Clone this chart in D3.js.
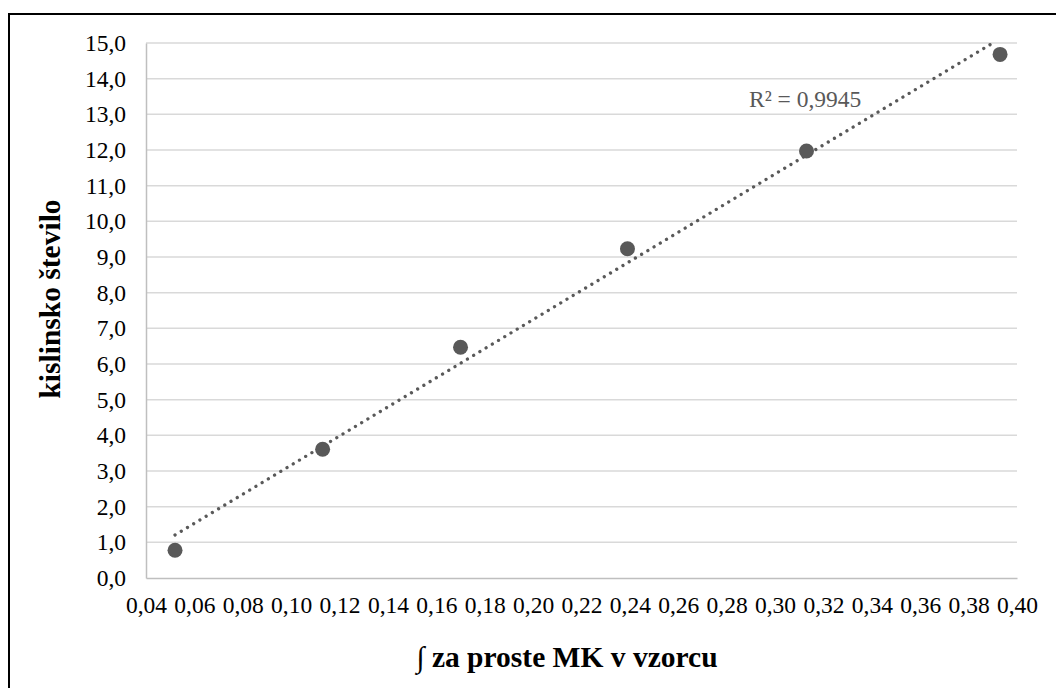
<!DOCTYPE html>
<html>
<head>
<meta charset="utf-8">
<script src="https://cdn.jsdelivr.net/npm/d3@7"></script>
<style>
  html, body { margin: 0; padding: 0; background: #ffffff; }
  svg { display: block; }
  text { font-family: "Liberation Serif", "Times New Roman", serif; }
</style>
</head>
<body>
<svg id="chart" width="1056" height="688"></svg>
<script>
// Free fatty acid integral vs. acid number
const integralValues = [0.052, 0.113, 0.170, 0.239, 0.313, 0.393];
const acidNumbers    = [0.78, 3.61, 6.47, 9.23, 11.97, 14.68];
const xTicks = [0.04, 0.06, 0.08, 0.10, 0.12, 0.14, 0.16, 0.18, 0.20, 0.22,
                0.24, 0.26, 0.28, 0.30, 0.32, 0.34, 0.36, 0.38, 0.40];
const yTicks = [0, 1, 2, 3, 4, 5, 6, 7, 8, 9, 10, 11, 12, 13, 14, 15];
const r2Label = "R² = 0,9945";
const xTitle = "∫ za proste MK v vzorcu";
const yTitle = "kislinsko število";

const svg = d3.select("#chart");
const m = { left: 146, top: 43, right: 1017, bottom: 578 };

const x = d3.scaleLinear().domain([0.04, 0.40]).range([m.left, m.right]);
const y = d3.scaleLinear().domain([0, 15]).range([m.bottom, m.top]);

const fmtX = d => d3.format(".2f")(d).replace(".", ",");
const fmtY = d => d3.format(".1f")(d).replace(".", ",");

// outer frame
svg.append("rect")
  .attr("x", 9).attr("y", 14)
  .attr("width", 1100).attr("height", 1000)
  .attr("fill", "none").attr("stroke", "#000").attr("stroke-width", 2);

// horizontal gridlines
svg.append("g").selectAll("line")
  .data(yTicks.filter(d => d > 0))
  .join("line")
  .attr("x1", m.left).attr("x2", m.right)
  .attr("y1", d => y(d)).attr("y2", d => y(d))
  .attr("stroke", "#d9d9d9").attr("stroke-width", 1.5);

// y axis
const yAxis = svg.append("g")
  .attr("transform", `translate(${m.left},0)`)
  .call(d3.axisLeft(y).tickValues(yTicks).tickFormat(fmtY).tickSize(0).tickPadding(20));
yAxis.select(".domain").attr("stroke", "#bfbfbf").attr("stroke-width", 1.5);
yAxis.selectAll("text")
  .attr("font-size", 23.5).attr("fill", "#000")
  .attr("font-family", "Liberation Serif, Times New Roman, serif");

// x axis
const xAxis = svg.append("g")
  .attr("transform", `translate(0,${m.bottom})`)
  .call(d3.axisBottom(x).tickValues(xTicks).tickFormat(fmtX).tickSize(0).tickPadding(18));
xAxis.select(".domain").attr("stroke", "#bfbfbf").attr("stroke-width", 1.5);
xAxis.selectAll("text")
  .attr("font-size", 23.5).attr("fill", "#000")
  .attr("font-family", "Liberation Serif, Times New Roman, serif");

// linear least-squares trendline
const mx = d3.mean(integralValues), my = d3.mean(acidNumbers);
let sxy = 0, sxx = 0;
integralValues.forEach((v, i) => { sxy += (v - mx) * (acidNumbers[i] - my); sxx += (v - mx) ** 2; });
const slope = sxy / sxx, intercept = my - slope * mx;
const xs = d3.extent(integralValues);

svg.append("clipPath").attr("id", "plotClip")
  .append("rect").attr("x", m.left).attr("y", m.top)
  .attr("width", m.right - m.left).attr("height", m.bottom - m.top);

svg.append("line")
  .attr("clip-path", "url(#plotClip)")
  .attr("x1", x(xs[0])).attr("y1", y(intercept + slope * xs[0]))
  .attr("x2", x(xs[1])).attr("y2", y(intercept + slope * xs[1]))
  .attr("stroke", "#595959").attr("stroke-width", 3.3)
  .attr("stroke-linecap", "round")
  .attr("stroke-dasharray", "0.01 7.25");

// data points
svg.append("g").selectAll("circle")
  .data(integralValues.map((v, i) => [v, acidNumbers[i]]))
  .join("circle")
  .attr("cx", d => x(d[0])).attr("cy", d => y(d[1]))
  .attr("r", 7.5).attr("fill", "#595959");

// R² annotation
svg.append("text")
  .attr("x", 749).attr("y", 107)
  .attr("font-size", 23.5).attr("fill", "#595959")
  .text(r2Label);

// axis titles
svg.append("text")
  .attr("x", 567).attr("y", 667)
  .attr("text-anchor", "middle")
  .attr("font-size", 29.5).attr("font-weight", "bold")
  .text(xTitle);

svg.append("text")
  .attr("transform", "translate(60,299) rotate(-90)")
  .attr("text-anchor", "middle")
  .attr("font-size", 29.5).attr("font-weight", "bold")
  .text(yTitle);
</script>
</body>
</html>
